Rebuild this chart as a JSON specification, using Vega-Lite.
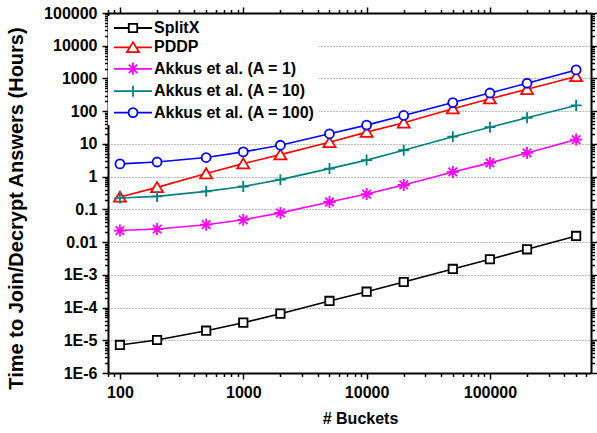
{
  "$schema": "https://vega.github.io/schema/vega-lite/v6.json",
  "width": 483,
  "height": 360,
  "autosize": {"type": "none"},
  "padding": {"left": 108, "top": 13, "right": 6, "bottom": 60},
  "background": "white",
  "config": {
    "font": "Liberation Sans",
    "view": {"stroke": null},
    "axis": {
      "labelFont": "Liberation Sans",
      "titleFont": "Liberation Sans",
      "labelColor": "black",
      "titleColor": "black",
      "tickColor": "black",
      "domainColor": "black",
      "domainWidth": 2,
      "tickWidth": 1.5,
      "labelFontSize": 16,
      "labelFontWeight": "bold",
      "titleFontSize": 16,
      "titleFontWeight": "bold",
      "labelFlush": false,
      "labelOverlap": false,
      "grid": false
    }
  },
  "data": {
    "values": [
      {"series": "SplitX", "buckets": 100, "hours": 0.0000072},
      {"series": "SplitX", "buckets": 200, "hours": 0.0000102},
      {"series": "SplitX", "buckets": 500, "hours": 0.0000196},
      {"series": "SplitX", "buckets": 1000, "hours": 0.0000345},
      {"series": "SplitX", "buckets": 2000, "hours": 0.000065},
      {"series": "SplitX", "buckets": 5000, "hours": 0.000159},
      {"series": "SplitX", "buckets": 10000, "hours": 0.000305},
      {"series": "SplitX", "buckets": 20000, "hours": 0.000604},
      {"series": "SplitX", "buckets": 50000, "hours": 0.00151},
      {"series": "SplitX", "buckets": 100000, "hours": 0.00299},
      {"series": "SplitX", "buckets": 200000, "hours": 0.00603},
      {"series": "SplitX", "buckets": 500000, "hours": 0.0154},
      {"series": "PDDP", "buckets": 100, "hours": 0.24},
      {"series": "PDDP", "buckets": 200, "hours": 0.47},
      {"series": "PDDP", "buckets": 500, "hours": 1.24},
      {"series": "PDDP", "buckets": 1000, "hours": 2.5},
      {"series": "PDDP", "buckets": 2000, "hours": 4.7},
      {"series": "PDDP", "buckets": 5000, "hours": 11.2},
      {"series": "PDDP", "buckets": 10000, "hours": 22.9},
      {"series": "PDDP", "buckets": 20000, "hours": 44},
      {"series": "PDDP", "buckets": 50000, "hours": 119},
      {"series": "PDDP", "buckets": 100000, "hours": 241},
      {"series": "PDDP", "buckets": 200000, "hours": 466},
      {"series": "PDDP", "buckets": 500000, "hours": 1150},
      {"series": "Akkus et al. (A = 1)", "buckets": 100, "hours": 0.0225},
      {"series": "Akkus et al. (A = 1)", "buckets": 200, "hours": 0.025},
      {"series": "Akkus et al. (A = 1)", "buckets": 500, "hours": 0.034},
      {"series": "Akkus et al. (A = 1)", "buckets": 1000, "hours": 0.048},
      {"series": "Akkus et al. (A = 1)", "buckets": 2000, "hours": 0.078},
      {"series": "Akkus et al. (A = 1)", "buckets": 5000, "hours": 0.168},
      {"series": "Akkus et al. (A = 1)", "buckets": 10000, "hours": 0.294},
      {"series": "Akkus et al. (A = 1)", "buckets": 20000, "hours": 0.556},
      {"series": "Akkus et al. (A = 1)", "buckets": 50000, "hours": 1.39},
      {"series": "Akkus et al. (A = 1)", "buckets": 100000, "hours": 2.63},
      {"series": "Akkus et al. (A = 1)", "buckets": 200000, "hours": 5.3},
      {"series": "Akkus et al. (A = 1)", "buckets": 500000, "hours": 13.6},
      {"series": "Akkus et al. (A = 10)", "buckets": 100, "hours": 0.222},
      {"series": "Akkus et al. (A = 10)", "buckets": 200, "hours": 0.249},
      {"series": "Akkus et al. (A = 10)", "buckets": 500, "hours": 0.355},
      {"series": "Akkus et al. (A = 10)", "buckets": 1000, "hours": 0.5},
      {"series": "Akkus et al. (A = 10)", "buckets": 2000, "hours": 0.81},
      {"series": "Akkus et al. (A = 10)", "buckets": 5000, "hours": 1.76},
      {"series": "Akkus et al. (A = 10)", "buckets": 10000, "hours": 3.2},
      {"series": "Akkus et al. (A = 10)", "buckets": 20000, "hours": 6.4},
      {"series": "Akkus et al. (A = 10)", "buckets": 50000, "hours": 16.6},
      {"series": "Akkus et al. (A = 10)", "buckets": 100000, "hours": 32.4},
      {"series": "Akkus et al. (A = 10)", "buckets": 200000, "hours": 63},
      {"series": "Akkus et al. (A = 10)", "buckets": 500000, "hours": 150},
      {"series": "Akkus et al. (A = 100)", "buckets": 100, "hours": 2.45},
      {"series": "Akkus et al. (A = 100)", "buckets": 200, "hours": 2.8},
      {"series": "Akkus et al. (A = 100)", "buckets": 500, "hours": 3.83},
      {"series": "Akkus et al. (A = 100)", "buckets": 1000, "hours": 5.7},
      {"series": "Akkus et al. (A = 100)", "buckets": 2000, "hours": 9.1},
      {"series": "Akkus et al. (A = 100)", "buckets": 5000, "hours": 20.4},
      {"series": "Akkus et al. (A = 100)", "buckets": 10000, "hours": 37.5},
      {"series": "Akkus et al. (A = 100)", "buckets": 20000, "hours": 74},
      {"series": "Akkus et al. (A = 100)", "buckets": 50000, "hours": 183},
      {"series": "Akkus et al. (A = 100)", "buckets": 100000, "hours": 360},
      {"series": "Akkus et al. (A = 100)", "buckets": 200000, "hours": 713},
      {"series": "Akkus et al. (A = 100)", "buckets": 500000, "hours": 1820}
    ]
  },
  "layer": [
    {
      "mark": {"type": "line", "strokeWidth": 1.6},
      "encoding": {
        "x": {
          "field": "buckets", "type": "quantitative",
          "scale": {"type": "log", "domain": [80, 660000], "nice": false},
          "axis": {"orient": "bottom", "values": [100, 1000, 10000, 100000], "format": "d", "title": "# Buckets", "titleX": 252, "tickSize": 6, "labelPadding": 5, "titlePadding": 10}
        },
        "y": {
          "field": "hours", "type": "quantitative",
          "scale": {"type": "log", "domain": [0.000001, 100000], "nice": false},
          "axis": {
            "orient": "left",
            "values": [0.000001, 0.00001, 0.0001, 0.001, 0.01, 0.1, 1, 10, 100, 1000, 10000, 100000],
            "labelExpr": "datum.value < 0.005 ? '1E' + round(log(datum.value) / LN10) : format(datum.value, '~g')",
            "title": "Time to Join/Decrypt Answers (Hours)",
            "titleFontSize": 20, "titleX": -86, "titleY": 195, "titleBaseline": "alphabetic", "titleAngle": 270,
            "tickSize": 6, "labelPadding": 5,
            "grid": true, "gridColor": "#808080", "gridDash": [1, 2], "gridWidth": 1
          }
        },
        "color": {
          "field": "series", "type": "nominal",
          "scale": {
            "domain": ["SplitX", "PDDP", "Akkus et al. (A = 1)", "Akkus et al. (A = 10)", "Akkus et al. (A = 100)"],
            "range": ["#000000", "#FF0000", "#FF00FF", "#008080", "#0000FF"]
          },
          "legend": {
            "title": null, "orient": "none", "legendX": 0, "legendY": 3, "padding": 4,
            "fillColor": "white", "strokeColor": null,
            "labelFont": "Liberation Sans", "labelFontSize": 16, "labelFontWeight": "bold", "labelColor": "black", "labelLimit": 400,
            "symbolSize": 100, "symbolStrokeWidth": 1.8, "symbolOffset": 13, "labelOffset": 13, "rowPadding": 2.4,
            "encode": {"symbols": {"update": {
              "shape": {"signal": "datum.value === 'SplitX' ? 'M-3.8,0H-0.84M0.84,0H3.8M-0.84,-0.84H0.84V0.84H-0.84Z' : datum.value === 'PDDP' ? 'M-3.8,0H-0.63M0.63,0H3.8M0,-1.05L1.2,0.95H-1.2Z' : datum.value === 'Akkus et al. (A = 1)' ? 'M-3.8,0H3.8M0,-1.2V1.2M-0.85,-0.85L0.85,0.85M-0.85,0.85L0.85,-0.85' : datum.value === 'Akkus et al. (A = 10)' ? 'M-3.8,0H3.8M0,-1.1V1.1' : 'M-3.8,0H-0.9M0.9,0H3.8M0.9,0A0.9,0.9 0 1,1 -0.9,0A0.9,0.9 0 1,1 0.9,0Z'"},
              "fill": {"value": "white"},
              "strokeWidth": {"value": 1.8}
            }}}
          }
        }
      }
    },
    {
      "transform": [{"filter": "datum.series === 'SplitX'"}],
      "mark": {"type": "point", "shape": "M-0.84,-0.84H0.84V0.84H-0.84Z", "filled": false, "fill": "white", "size": 100, "strokeWidth": 1.8, "opacity": 1},
      "encoding": {
        "x": {
          "field": "buckets", "type": "quantitative",
          "scale": {"type": "log", "domain": [80, 660000], "nice": false},
          "axis": {"orient": "bottom", "values": [80, 90, 200, 300, 400, 500, 600, 700, 800, 900, 2000, 3000, 4000, 5000, 6000, 7000, 8000, 9000, 20000, 30000, 40000, 50000, 60000, 70000, 80000, 90000, 200000, 300000, 400000, 500000, 600000], "labels": false, "title": null, "tickSize": 3.5, "domain": false}
        },
        "y": {
          "field": "hours", "type": "quantitative",
          "scale": {"type": "log", "domain": [0.000001, 100000], "nice": false},
          "axis": {"orient": "left", "values": [0.000002, 0.000003, 0.000004, 0.000005, 0.000006, 0.000007, 0.000008, 0.000009, 0.00002, 0.00003, 0.00004, 0.00005, 0.00006, 0.00007, 0.00008, 0.00009, 0.0002, 0.0003, 0.0004, 0.0005, 0.0006, 0.0007, 0.0008, 0.0009, 0.002, 0.003, 0.004, 0.005, 0.006, 0.007, 0.008, 0.009, 0.02, 0.03, 0.04, 0.05, 0.06, 0.07, 0.08, 0.09, 0.2, 0.3, 0.4, 0.5, 0.6, 0.7, 0.8, 0.9, 2, 3, 4, 5, 6, 7, 8, 9, 20, 30, 40, 50, 60, 70, 80, 90, 200, 300, 400, 500, 600, 700, 800, 900, 2000, 3000, 4000, 5000, 6000, 7000, 8000, 9000, 20000, 30000, 40000, 50000, 60000, 70000, 80000, 90000], "labels": false, "title": null, "tickSize": 3.5, "domain": false}
        },
        "color": {"field": "series", "type": "nominal"}
      }
    },
    {
      "transform": [{"filter": "datum.series === 'PDDP'"}],
      "mark": {"type": "point", "shape": "M0,-1.05L1.2,0.95H-1.2Z", "filled": false, "fill": "white", "size": 100, "strokeWidth": 1.8, "opacity": 1},
      "encoding": {
        "x": {
          "field": "buckets", "type": "quantitative",
          "scale": {"type": "log", "domain": [80, 660000], "nice": false},
          "axis": {"orient": "top", "values": [100, 1000, 10000, 100000], "labels": false, "title": null, "tickSize": 6}
        },
        "y": {
          "field": "hours", "type": "quantitative",
          "scale": {"type": "log", "domain": [0.000001, 100000], "nice": false},
          "axis": {"orient": "right", "values": [0.000001, 0.00001, 0.0001, 0.001, 0.01, 0.1, 1, 10, 100, 1000, 10000, 100000], "labels": false, "title": null, "tickSize": 6}
        },
        "color": {"field": "series", "type": "nominal"}
      }
    },
    {
      "transform": [{"filter": "datum.series === 'Akkus et al. (A = 1)'"}],
      "mark": {"type": "point", "shape": "M0,-1.2V1.2M-1.2,0H1.2M-0.85,-0.85L0.85,0.85M-0.85,0.85L0.85,-0.85", "filled": false, "size": 100, "strokeWidth": 1.8, "opacity": 1},
      "encoding": {
        "x": {
          "field": "buckets", "type": "quantitative",
          "scale": {"type": "log", "domain": [80, 660000], "nice": false},
          "axis": {"orient": "top", "values": [80, 90, 200, 300, 400, 500, 600, 700, 800, 900, 2000, 3000, 4000, 5000, 6000, 7000, 8000, 9000, 20000, 30000, 40000, 50000, 60000, 70000, 80000, 90000, 200000, 300000, 400000, 500000, 600000], "labels": false, "title": null, "tickSize": 3.5, "domain": false}
        },
        "y": {
          "field": "hours", "type": "quantitative",
          "scale": {"type": "log", "domain": [0.000001, 100000], "nice": false},
          "axis": {"orient": "right", "values": [0.000002, 0.000003, 0.000004, 0.000005, 0.000006, 0.000007, 0.000008, 0.000009, 0.00002, 0.00003, 0.00004, 0.00005, 0.00006, 0.00007, 0.00008, 0.00009, 0.0002, 0.0003, 0.0004, 0.0005, 0.0006, 0.0007, 0.0008, 0.0009, 0.002, 0.003, 0.004, 0.005, 0.006, 0.007, 0.008, 0.009, 0.02, 0.03, 0.04, 0.05, 0.06, 0.07, 0.08, 0.09, 0.2, 0.3, 0.4, 0.5, 0.6, 0.7, 0.8, 0.9, 2, 3, 4, 5, 6, 7, 8, 9, 20, 30, 40, 50, 60, 70, 80, 90, 200, 300, 400, 500, 600, 700, 800, 900, 2000, 3000, 4000, 5000, 6000, 7000, 8000, 9000, 20000, 30000, 40000, 50000, 60000, 70000, 80000, 90000], "labels": false, "title": null, "tickSize": 3.5, "domain": false}
        },
        "color": {"field": "series", "type": "nominal"}
      }
    },
    {
      "transform": [{"filter": "datum.series === 'Akkus et al. (A = 10)'"}],
      "mark": {"type": "point", "shape": "M-1.1,0H1.1M0,-1.1V1.1", "filled": false, "size": 100, "strokeWidth": 1.8, "opacity": 1},
      "encoding": {
        "x": {"field": "buckets", "type": "quantitative", "scale": {"type": "log", "domain": [80, 660000], "nice": false}, "axis": null},
        "y": {"field": "hours", "type": "quantitative", "scale": {"type": "log", "domain": [0.000001, 100000], "nice": false}, "axis": null},
        "color": {"field": "series", "type": "nominal"}
      }
    },
    {
      "transform": [{"filter": "datum.series === 'Akkus et al. (A = 100)'"}],
      "mark": {"type": "point", "shape": "M0.9,0A0.9,0.9 0 1,1 -0.9,0A0.9,0.9 0 1,1 0.9,0Z", "filled": false, "fill": "white", "size": 100, "strokeWidth": 1.8, "opacity": 1},
      "encoding": {
        "x": {"field": "buckets", "type": "quantitative", "scale": {"type": "log", "domain": [80, 660000], "nice": false}, "axis": null},
        "y": {"field": "hours", "type": "quantitative", "scale": {"type": "log", "domain": [0.000001, 100000], "nice": false}, "axis": null},
        "color": {"field": "series", "type": "nominal"}
      }
    }
  ],
  "resolve": {"axis": {"x": "independent", "y": "independent"}}
}
